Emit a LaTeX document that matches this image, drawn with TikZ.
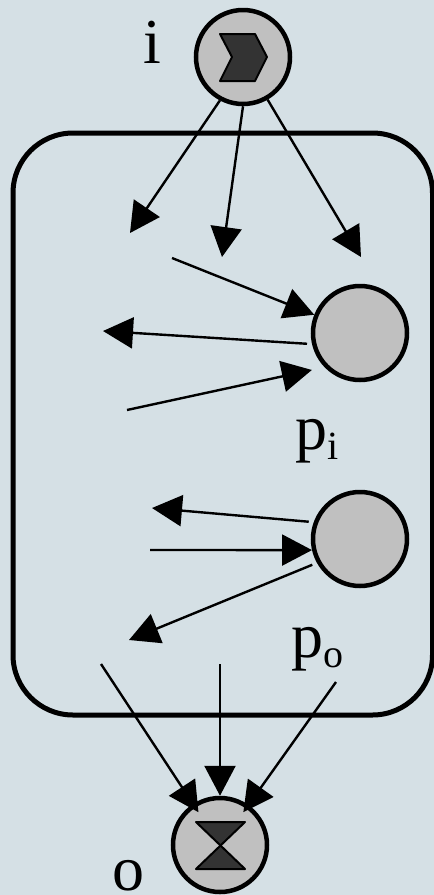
\documentclass[tikz,border=0pt]{standalone}
\usepackage{fontspec}
\setmainfont{Liberation Serif}
\usetikzlibrary{arrows.meta}
\definecolor{bgcol}{RGB}{213,224,229}
\definecolor{placecol}{RGB}{192,192,192}
\definecolor{markcol}{RGB}{51,51,51}
\newcommand{\subtxt}[1]{{\fontsize{40}{40}\selectfont\raisebox{-10pt}{#1}}}

\begin{document}
\begin{tikzpicture}[x=1pt,y=-1pt,>={Triangle[length=30pt,width=31pt]},
    place/.style={draw,circle,line width=4.5pt,fill=placecol,minimum size=94pt,inner sep=0pt},
    lbl/.style={inner sep=0pt,anchor=base west,font=\fontsize{64}{64}\selectfont},
    tmark/.style={draw,line width=2pt,fill=markcol,line join=round},
    ar/.style={->,line width=2.4pt},
    gap/.style={shorten <=5pt}]
  \useasboundingbox (0,0) rectangle (434,895);
  \fill[bgcol] (0,0) rectangle (434,895);
  \draw[line width=5pt,rounded corners=60pt] (13,133) rectangle (432.5,715);
  % places
  \node[place] (i) at (243,57) {};
  \node[place] (pi) at (360,333) {};
  \node[place] (po) at (360,539) {};
  \node[place] (o) at (220,845) {};
  \draw[tmark] (220,34)--(255,34)--(267,57)--(255,81)--(220,81)--(232,57)--cycle;
  \draw[tmark] (196,822)--(245,822)--(196,869)--(245,869)--cycle;
  % labels
  \node[lbl] (li) at (143,63) {i};
  \node[lbl] (lpi) at (295,449) {p\subtxt{i}};
  \node[lbl] (lpo) at (291,657) {p\subtxt{o}};
  \node[lbl] (lo) at (112,890) {o};
  % free ends
  \coordinate (t1) at (130,233);
  \coordinate (t2) at (222,257);
  \coordinate (t3) at (361,257);
  \coordinate (s1) at (172,258);
  \coordinate (t4) at (103,331);
  \coordinate (s2) at (127,410);
  \coordinate (t5) at (152,508);
  \coordinate (s3) at (150,550);
  \coordinate (t6) at (129,640);
  \coordinate (s4) at (101,664);
  \coordinate (s5) at (220,664);
  \coordinate (s6) at (336,682);
  % arcs
  \draw[ar](i.-118)--(t1); \draw[ar](i.-90)--(t2); \draw[ar](i.-60)--(t3);
  \draw[ar](s1)--(pi); \draw[ar,gap](pi.193)--(t4); \draw[ar,shorten >=13pt](s2)--(pi.224);
  \draw[ar,gap](po.160)--(t5); \draw[ar](s3)--(po.193); \draw[ar,gap](po.209)--(t6);
  \draw[ar,shorten >=-10pt](s4)--(o); \draw[ar](s5)--(o); \draw[ar,shorten >=-9pt](s6)--(o);
\end{tikzpicture}
\end{document}
